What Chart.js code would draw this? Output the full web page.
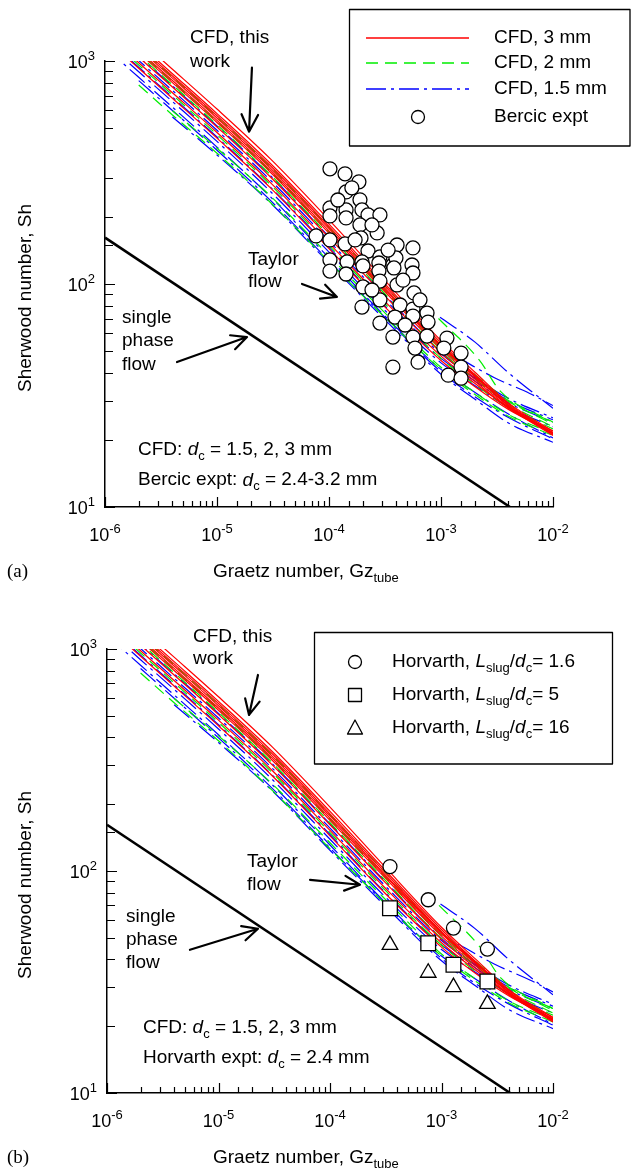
<!DOCTYPE html>
<html>
<head>
<meta charset="utf-8">
<title>Sherwood vs Graetz</title>
<script src="https://cdn.jsdelivr.net/npm/chart.js@4.4.1/dist/chart.umd.min.js"></script>
<style>
  html, body { margin:0; padding:0; background:#fff; }
  #page { position:relative; width:631px; height:1169px; overflow:hidden; }
  canvas { position:absolute; left:0; }
</style>
</head>
<body>
<div id="page">
  <canvas id="chartA" width="631" height="585" style="top:0"></canvas>
  <canvas id="chartB" width="631" height="584" style="top:585px"></canvas>
</div>
<script>
// ---------------- DATA ----------------
// Graetz numbers at which the CFD curves are sampled
const gzGrid = [1e-6, 2e-6, 4e-6, 1e-5, 3e-5, 1e-4, 3e-4, 1e-3, 2e-3, 4e-3, 1e-2];
// CFD, 3 mm (red, solid)
const sh3mm = [
  [1703, 1251, 919, 609, 364, 194, 106.5, 55.8, 40.3, 29.3, 21.9],
  [1627, 1195, 877, 581, 347, 185.5, 102.9, 54.5, 39.3, 29.0, 21.4],
  [1588, 1167, 857, 568, 339, 181, 100.6, 53.3, 38.9, 28.3, 21.3],
  [1553, 1141, 838, 555, 331, 177, 98.3, 52.7, 38.5, 28.6, 21.1],
  [1517, 1115, 818, 542, 324, 173, 97.1, 52.1, 38.5, 28.6, 21.4],
  [1483, 1089, 800, 530, 317, 169, 95.0, 50.9, 37.6, 28.0, 20.9],
  [1416, 1040, 764, 506, 302, 161.5, 90.7, 49.2, 36.7, 27.7, 21.4],
  [1337, 982, 721, 478, 285, 152.4, 85.6, 47.5, 35.9, 28.0, 21.9],
  [1263, 928, 681, 451, 270, 144, 80.9, 45.4, 34.7, 27.4, 21.6]
];
// CFD, 2 mm (green, dashed)
const sh2mm = [
  [1570, 1154, 847, 561, 335, 179, 100.6, 53.3, 39.3, 30.0, 23.5],
  [1499, 1101, 809, 536, 320, 171, 96.0, 51.5, 38.5, 29.7, 24.0],
  [1449, 1064, 782, 518, 309, 165, 92.8, 49.7, 37.6, 29.0, 22.9],
  [1306, 960, 705, 467, 279, 149, 83.7, 46.4, 35.5, 28.0, 22.4],
  [null, null, 598, 406, 248, 134, 76.2, 42.3, 32.7, 26.0, 21.4],
  [null, 780, 573, 386, 232, 126, 72.7, 41.4, 32.0, 25.5, 20.9]
];
// CFD, 1.5 mm (blue, dash-dot)
const sh15mm = [
  [1432, 1052, 773, 512, 306, 163, 91.7, 49.7, 37.6, 30.0, 24.6],
  [1368, 1005, 738, 489, 292, 156, 87.6, 48.6, 38.0, 30.7, 25.1],
  [1276, 938, 689, 456, 272, 146, 81.7, 46.4, 36.7, 29.3, 24.0],
  [1219, 895, 658, 436, 260, 139, 78.1, 44.3, 35.1, 28.0, 22.9],
  [1150, 845, 621, 411, 246, 131, 73.7, 41.4, 32.7, 26.1, 20.4],
  [null, 817, 600, 398, 237, 127, 72.7, 40.4, 31.2, 25.2, 20.2],
  [null, null, 561, 379, 231, 124, 71, 39.4, 30.5, 23.8, 19.5]
];
// short CFD curves at high Gz
const gzLate2mm = [9.5e-4, 2.2e-3, 3.4e-3, 1e-2];
const shLate2mm = [70, 45.6, 33, 24];
const gzLate15mmA = [9.8e-4, 2e-3, 4e-3, 1e-2];
const shLate15mmA = [71, 55, 40, 27.7];
const gzLate15mmB = [1.4e-3, 3e-3, 6.2e-3, 1e-2];
const shLate15mmB = [47, 38, 32.3, 28.5];
// single phase flow line
const singlePhaseGz = [1e-6, 4.13e-3];
const singlePhaseSh = [161.5, 10];
// Bercic experiments
const bercicGz = [1.02e-4,1.39e-4,1.85e-4,1.42e-4,1.89e-4,1.02e-4,1.42e-4,1.97e-4,2.23e-4,2.85e-4,
  1.02e-4,1.42e-4,1.89e-4,2.69e-4,7.66e-5,1.02e-4,1.39e-4,1.93e-4,4.05e-4,5.62e-4,
  2.23e-4,2.85e-4,1.02e-4,1.45e-4,1.97e-4,3.72e-4,5.51e-4,3.96e-4,2.79e-4,1.02e-4,
  1.42e-4,2.01e-4,2.79e-4,3.80e-4,5.62e-4,2.01e-4,2.85e-4,4.05e-4,5.74e-4,1.97e-4,
  2.85e-4,4.31e-4,5.62e-4,3.88e-4,5.62e-4,7.50e-4,2.85e-4,7.66e-4,3.72e-4,5.62e-4,
  7.50e-4,1.13e-3,5.86e-4,1.06e-3,1.51e-3,6.24e-4,3.72e-4,1.51e-3,1.16e-3,1.51e-3,
  1.60e-4,1.20e-4,2.42e-4,3.37e-4,4.58e-4,6.49e-4,4.78e-4,2.42e-4,1.71e-4];
const bercicSh = [328.5,311.9,287.1,258.8,238.4,219.4,214.9,214.9,204.0,204.0,
  201.9,197.8,184.1,169.4,164.3,157.6,151.2,160.9,149.6,145.1,
  140.6,132.2,128.2,125.6,125.6,121.7,121.7,130.9,124.2,114.3,
  110.9,120.5,114.3,118.0,112.0,97.0,103.1,99.0,91.2,78.8,
  84.8,80.5,77.2,71.1,71.8,74.1,66.8,67.5,57.8,57.8,
  58.4,57.2,51.6,51.6,49.0,44.6,42.4,42.4,39.0,37.8,
  270,238,184,142,104,84.8,65.5,94.0,157.6];
// Horvarth experiments
const horvGz = [3.45e-4, 7.6e-4, 1.28e-3, 2.58e-3];
const horvSh_1_6 = [104.7, 74.2, 55.3, 44.5];
const horvSh_5 = [68.0, 47.3, 37.8, 31.8];
const horvSh_16 = [46.5, 34.8, 30.0, 25.2];
// tick labels (powers of ten)
const xTickExps = [-6, -5, -4, -3, -2];
const yTickExps = [1, 2, 3];

// ---------------- STYLE ----------------
const FONT_FAMILY = '"Liberation Sans", Arial, Helvetica, sans-serif';
const COL3 = '#ff0000', COL2 = '#00ee00', COL15 = '#0000ff';
const DASH2 = [12, 7], DASH15 = [20, 5, 3, 5];

function fnt(sz, it) { return (it ? 'italic ' : '') + sz + 'px ' + FONT_FAMILY; }
function partFont(p, size) {
  if (p.sub || p.sup) return { sz: Math.round(size * 0.7), dy: p.sub ? size * 0.34 : -size * 0.38 };
  return { sz: size, dy: 0 };
}
function richWidth(ctx, parts, size) {
  let w = 0;
  for (const p of parts) { const f = partFont(p, size); ctx.font = fnt(f.sz, p.i); w += ctx.measureText(p.t).width; }
  return w;
}
function rich(ctx, parts, x, y, size) {
  ctx.textBaseline = 'middle'; ctx.textAlign = 'left';
  let cx = x;
  for (const p of parts) {
    const f = partFont(p, size);
    ctx.font = fnt(f.sz, p.i);
    ctx.fillText(p.t, cx, y + f.dy);
    cx += ctx.measureText(p.t).width;
  }
  return cx - x;
}
function arrow(ctx, x1, y1, x2, y2, L) {
  const a = Math.atan2(y2 - y1, x2 - x1), s = 0.45;
  ctx.beginPath();
  ctx.moveTo(x1, y1); ctx.lineTo(x2, y2);
  ctx.moveTo(x2 - L * Math.cos(a - s), y2 - L * Math.sin(a - s));
  ctx.lineTo(x2, y2);
  ctx.lineTo(x2 - L * Math.cos(a + s), y2 - L * Math.sin(a + s));
  ctx.stroke();
}
function isDecade(v) { const l = Math.log10(v); return Math.abs(l - Math.round(l)) < 1e-6; }

function pts(gz, sh) { const out = []; for (let i = 0; i < gz.length; i++) if (sh[i] != null) out.push({ x: gz[i], y: sh[i] }); return out; }
function lineDs(data, color, dash, order, label) {
  return { label, data, showLine: true, borderColor: color, borderWidth: 1.2, borderDash: dash,
    pointRadius: 0, pointHoverRadius: 0, fill: false, cubicInterpolationMode: 'monotone', order };
}
function markerDs(label, data, style, r) {
  return { label, data, showLine: false, pointStyle: style, pointRadius: r, pointHoverRadius: r,
    pointBackgroundColor: '#fff', pointBorderColor: '#000', pointBorderWidth: 1.3,
    backgroundColor: '#fff', borderColor: '#000', order: 0 };
}
function buildDatasets(markers) {
  const ds = [];
  markers.forEach(m => ds.push(markerDs(m.label, pts(m.gz, m.sh), m.style, m.r)));
  ds.push({ label: 'single phase', data: pts(singlePhaseGz, singlePhaseSh), showLine: true, borderColor: '#000',
    borderWidth: 2.6, pointRadius: 0, order: 1 });
  sh3mm.forEach(s => ds.push(lineDs(pts(gzGrid, s), COL3, [], 2, 'CFD, 3 mm')));
  sh2mm.forEach(s => ds.push(lineDs(pts(gzGrid, s), COL2, DASH2, 3, 'CFD, 2 mm')));
  ds.push(lineDs(pts(gzLate2mm, shLate2mm), COL2, DASH2, 3, 'CFD, 2 mm'));
  sh15mm.forEach(s => ds.push(lineDs(pts(gzGrid, s), COL15, DASH15, 4, 'CFD, 1.5 mm')));
  ds.push(lineDs(pts(gzLate15mmA, shLate15mmA), COL15, DASH15, 4, 'CFD, 1.5 mm'));
  ds.push(lineDs(pts(gzLate15mmB, shLate15mmB), COL15, DASH15, 4, 'CFD, 1.5 mm'));
  return ds;
}

// annotation positions in data space (log10 Gz, log10 Sh)
const annotA = {
  texts: [
    { parts: [{ t: 'CFD, this' }], lx: -5.241, ly: 3.105 },
    { parts: [{ t: 'work' }], lx: -5.241, ly: 2.997 },
    { parts: [{ t: 'Taylor' }], lx: -4.723, ly: 2.108 },
    { parts: [{ t: 'flow' }], lx: -4.723, ly: 2.009 },
    { parts: [{ t: 'single' }], lx: -5.848, ly: 1.847 },
    { parts: [{ t: 'phase' }], lx: -5.848, ly: 1.744 },
    { parts: [{ t: 'flow' }], lx: -5.848, ly: 1.636 },
    { parts: [{ t: 'CFD: ' }, { t: 'd', i: 1 }, { t: 'c', sub: 1 }, { t: ' = 1.5, 2, 3 mm' }], lx: -5.705, ly: 1.255 },
    { parts: [{ t: 'Bercic expt: ' }, { t: 'd', i: 1 }, { t: 'c', sub: 1 }, { t: ' = 2.4-3.2 mm' }], lx: -5.705, ly: 1.120 }
  ],
  arrows: [[-4.688, 2.970, -4.714, 2.683, 19], [-4.241, 2.000, -3.929, 1.942, 17], [-5.357, 1.650, -4.732, 1.762, 17]]
};
const annotB = {
  texts: [
    { parts: [{ t: 'CFD, this' }], lx: -5.229, ly: 3.054 },
    { parts: [{ t: 'work' }], lx: -5.229, ly: 2.955 },
    { parts: [{ t: 'Taylor' }], lx: -4.744, ly: 2.041 },
    { parts: [{ t: 'flow' }], lx: -4.744, ly: 1.938 },
    { parts: [{ t: 'single' }], lx: -5.830, ly: 1.794 },
    { parts: [{ t: 'phase' }], lx: -5.830, ly: 1.690 },
    { parts: [{ t: 'flow' }], lx: -5.830, ly: 1.587 },
    { parts: [{ t: 'CFD: ' }, { t: 'd', i: 1 }, { t: 'c', sub: 1 }, { t: ' = 1.5, 2, 3 mm' }], lx: -5.677, ly: 1.294 },
    { parts: [{ t: 'Horvarth expt: ' }, { t: 'd', i: 1 }, { t: 'c', sub: 1 }, { t: ' = 2.4 mm' }], lx: -5.677, ly: 1.159 }
  ],
  arrows: [[-4.646, 2.883, -4.726, 2.703, 17], [-4.179, 1.960, -3.731, 1.938, 17], [-5.256, 1.645, -4.646, 1.740, 17]]
};

function drawLegendA(ctx) {
  ctx.lineWidth = 1.3; ctx.strokeStyle = '#000';
  ctx.strokeRect(349.5, 9.5, 280.5, 136.5);
  const rows = [
    { y: 38, col: COL3, dash: [], text: 'CFD, 3 mm' },
    { y: 63, col: COL2, dash: DASH2, text: 'CFD, 2 mm' },
    { y: 89, col: COL15, dash: DASH15, text: 'CFD, 1.5 mm' }
  ];
  for (const r of rows) {
    ctx.save(); ctx.strokeStyle = r.col; ctx.lineWidth = 1.3; ctx.setLineDash(r.dash);
    ctx.beginPath(); ctx.moveTo(366, r.y); ctx.lineTo(469, r.y); ctx.stroke(); ctx.restore();
    ctx.fillStyle = '#000'; rich(ctx, [{ t: r.text }], 494, r.y, 19);
  }
  ctx.beginPath(); ctx.arc(418, 117, 6.5, 0, Math.PI * 2); ctx.fillStyle = '#fff'; ctx.fill();
  ctx.lineWidth = 1.3; ctx.strokeStyle = '#000'; ctx.stroke();
  ctx.fillStyle = '#000'; rich(ctx, [{ t: 'Bercic expt' }], 494, 117, 19);
}
function drawLegendB(ctx) {
  ctx.lineWidth = 1.3; ctx.strokeStyle = '#000';
  ctx.strokeRect(314.5, 47.5, 298, 131.5);
  const vals = ['1.6', '5', '16'];
  const ys = [77, 110, 143];
  ctx.lineWidth = 1.3;
  ctx.beginPath(); ctx.arc(355, ys[0], 6.5, 0, Math.PI * 2); ctx.stroke();
  ctx.strokeRect(348.5, ys[1] - 6.5, 13, 13);
  ctx.beginPath(); ctx.moveTo(355, ys[2] - 8); ctx.lineTo(362.5, ys[2] + 6); ctx.lineTo(347.5, ys[2] + 6); ctx.closePath(); ctx.stroke();
  ctx.fillStyle = '#000';
  vals.forEach((v, i) => rich(ctx, [{ t: 'Horvarth, ' }, { t: 'L', i: 1 }, { t: 'slug', sub: 1 }, { t: '/' }, { t: 'd', i: 1 }, { t: 'c', sub: 1 }, { t: '= ' + v }], 392, ys[i], 19));
}

function decorPlugin(cfg) {
  return {
    id: 'decor',
    afterDraw(chart) {
      const ctx = chart.ctx, ca = chart.chartArea, xs = chart.scales.x, ys = chart.scales.y;
      ctx.save();
      ctx.fillStyle = '#000'; ctx.strokeStyle = '#000';
      // tick marks (inward), taken from the library's log ticks
      ctx.lineWidth = 1.2;
      ctx.beginPath();
      for (const t of xs.ticks) {
        const px = Math.round(xs.getPixelForValue(t.value)) + 0.5;
        const len = isDecade(t.value) ? 10 : 6;
        ctx.moveTo(px, ca.bottom); ctx.lineTo(px, ca.bottom - len);
      }
      for (const t of ys.ticks) {
        const py = Math.round(ys.getPixelForValue(t.value)) + 0.5;
        const len = isDecade(t.value) ? 10 : 8;
        ctx.moveTo(ca.left, py); ctx.lineTo(ca.left + len, py);
      }
      ctx.stroke();
      // tick labels
      for (const e of xTickExps) {
        const parts = [{ t: '10' }, { t: String(e), sup: 1 }];
        const w = richWidth(ctx, parts, 18);
        rich(ctx, parts, xs.getPixelForValue(Math.pow(10, e)) - w / 2, ca.bottom + 29, 18);
      }
      for (const e of yTickExps) {
        const parts = [{ t: '10' }, { t: String(e), sup: 1 }];
        const w = richWidth(ctx, parts, 18);
        rich(ctx, parts, ca.left - 10 - w, ys.getPixelForValue(Math.pow(10, e)) + 2, 18);
      }
      // axis titles
      ctx.save();
      ctx.translate(26, (ca.top + ca.bottom) / 2 + 14);
      ctx.rotate(-Math.PI / 2);
      ctx.textAlign = 'center'; ctx.textBaseline = 'middle'; ctx.font = fnt(19);
      ctx.fillText('Sherwood number, Sh', 0, 0);
      ctx.restore();
      rich(ctx, [{ t: 'Graetz number, Gz' }, { t: 'tube', sub: 1 }], 213, ca.bottom + 65, 19);
      ctx.font = '19px "Liberation Serif", "Times New Roman", serif';
      ctx.textAlign = 'left'; ctx.textBaseline = 'middle';
      ctx.fillText(cfg.panel, 7, ca.bottom + 65);
      // annotations
      const an = cfg.annot;
      for (const tx of an.texts) {
        rich(ctx, tx.parts, xs.getPixelForValue(Math.pow(10, tx.lx)), ys.getPixelForValue(Math.pow(10, tx.ly)), 19);
      }
      ctx.lineWidth = 2.2; ctx.lineCap = 'round'; ctx.lineJoin = 'round';
      for (const a of an.arrows) {
        arrow(ctx, xs.getPixelForValue(Math.pow(10, a[0])), ys.getPixelForValue(Math.pow(10, a[1])),
          xs.getPixelForValue(Math.pow(10, a[2])), ys.getPixelForValue(Math.pow(10, a[3])), a[4]);
      }
      ctx.lineCap = 'butt';
      cfg.legend(ctx);
      ctx.restore();
    }
  };
}

function makeChart(id, cfg) {
  return new Chart(document.getElementById(id), {
    type: 'scatter',
    data: { datasets: buildDatasets(cfg.markers) },
    options: {
      responsive: false, animation: false, devicePixelRatio: 1,
      events: [],
      layout: { padding: { top: cfg.top, right: 631 - 553, left: 0, bottom: 0 } },
      plugins: { legend: { display: false }, tooltip: { enabled: false } },
      scales: {
        x: { type: 'logarithmic', min: 1e-6, max: 1e-2,
          grid: { display: false }, border: { display: true, color: '#000', width: 1.5 },
          ticks: { display: false, autoSkip: false },
          afterFit(s) { s.height = cfg.xh; } },
        y: { type: 'logarithmic', min: 10, max: 1000,
          grid: { display: false }, border: { display: true, color: '#000', width: 1.5 },
          ticks: { display: false, autoSkip: false },
          afterFit(s) { s.width = cfg.left; } }
      }
    },
    plugins: [decorPlugin(cfg)]
  });
}

makeChart('chartA', {
  top: 61, xh: 78, left: 105, panel: '(a)', annot: annotA, legend: drawLegendA,
  markers: [{ label: 'Bercic expt', gz: bercicGz, sh: bercicSh, style: 'circle', r: 7 }]
});
makeChart('chartB', {
  top: 64, xh: 76, left: 107, panel: '(b)', annot: annotB, legend: drawLegendB,
  markers: [
    { label: 'Horvarth, Lslug/dc = 1.6', gz: horvGz, sh: horvSh_1_6, style: 'circle', r: 7 },
    { label: 'Horvarth, Lslug/dc = 5', gz: horvGz, sh: horvSh_5, style: 'rect', r: 10.4 },
    { label: 'Horvarth, Lslug/dc = 16', gz: horvGz, sh: horvSh_16, style: 'triangle', r: 9 }
  ]
});
</script>
</body>
</html>
